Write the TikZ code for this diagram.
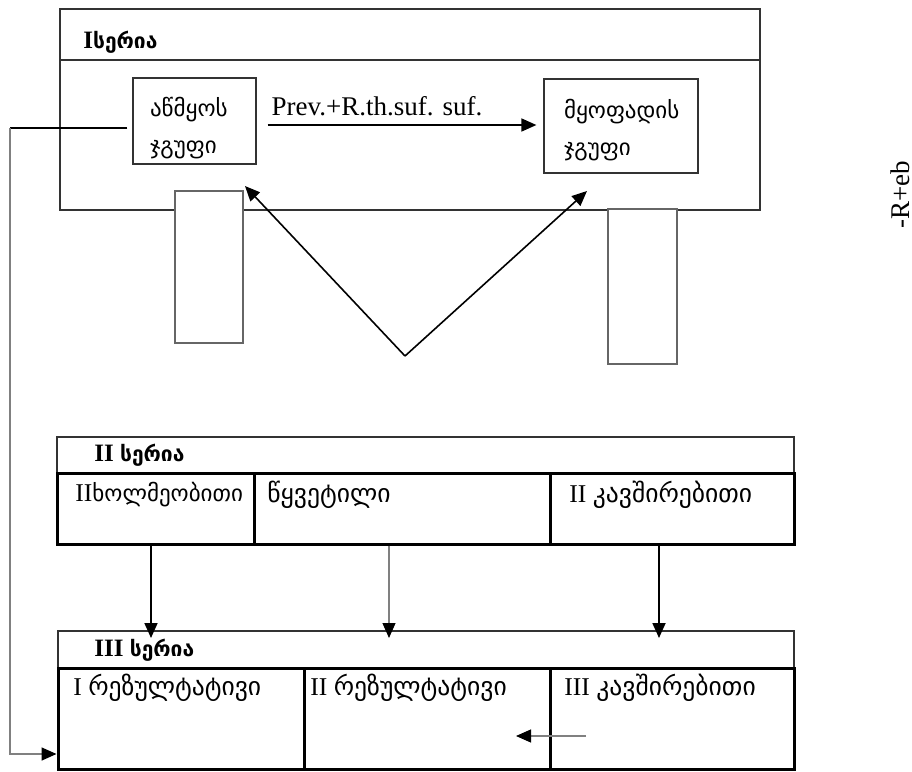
\documentclass[tikz,border=0pt]{standalone}
\usepackage{fontspec}
\setmainfont{Liberation Serif}
\newfontfamily\geo{DejaVu Sans}
\usetikzlibrary{arrows.meta}

\begin{document}
\begin{tikzpicture}[x=0.5pt,y=-0.5pt,thin,>={Triangle[length=7.5pt,width=6.5pt,black]},
				font=\fontsize{13.5}{16}\selectfont,
				frame/.style = {draw=black!80, line width=0.6pt},
				group box/.style = {draw=black!80, line width=0.6pt, align=left, inner ysep=0pt, font=\fontsize{11.5}{18.5}\selectfont\geo, minimum height=43pt},
				small box/.style = {draw=black!60, fill=white, line width=0.6pt, minimum width=34pt, minimum height=76pt, inner sep=0pt},
				cell/.style = {draw, line width=1.5pt, inner sep=0pt},
				cell text/.style = {anchor=west, inner sep=0pt, font=\fontsize{12.8}{15}\selectfont},
				series/.style = {anchor=west, inner sep=0pt, font=\fontsize{12.5}{14}\selectfont\bfseries}]
				\useasboundingbox (0,0) rectangle (912,772);
				
				% I series
				\draw[frame] (60,9) rectangle (760,210);
				\draw[frame] (60,60) -- (760,60);
				\node[series] (10) at (83,42) {I{\fontsize{10.5}{14}\selectfont\geo სერია}};
				\node[group box, text width=44.5pt, inner xsep=8.5pt, minimum width=61.5pt] (1) at (194.5,121) {\rule{0pt}{17pt}აწმყოს\\ჯგუფი};
				\node[group box, text width=57pt, inner xsep=10pt, minimum width=77pt, minimum height=47pt] (2) at (621,126) {\rule{0pt}{14pt}მყოფადის\\ჯგუფი};
				\node[small box] (3) at (209,267) {};
				\node[small box, minimum width=34.5pt, minimum height=77.5pt] (4) at (642.5,286.5) {};
				\coordinate (a) at (0,125);
				\coordinate (v) at (405,356);
				\coordinate (t1) at (245,186);
				\coordinate (t2) at (587,191);
				\draw[->, line width=0.8pt, shorten <=5.5pt, shorten >=3.5pt] (1.east |- a) -- node[pos=0.42, above=1pt] {Prev.+R.th.suf. suf.} (2.west |- a);
				\draw[->, line width=0.8pt] (v) -- (t1);
				\draw[->, line width=0.8pt] (v) -- (t2);
				\node[rotate=90] (5) at (900,195) {-R+eb};
				
				% II series
				\draw[frame] (57,473) |- (794,437) -- (794,473);
				\node[series] (20) at (94,455) {II {\fontsize{10.5}{14}\selectfont\geo სერია}};
				\node[cell, minimum width=98.5pt, minimum height=35.5pt] (21) at (155.5,508.5) {};
				\node[cell, minimum width=148pt, minimum height=35.5pt] (22) at (402,508.5) {};
				\node[cell, minimum width=122pt, minimum height=35.5pt] (23) at (672,508.5) {};
				\node[cell text] at (75,495) {II{\fontsize{11.5}{15}\selectfont\geo ხოლმეობითი}};
				\node[cell text] at (267,495) {\geo წყვეტილი};
				\node[cell text] at (569,495) {II {\geo კავშირებითი}};
				
				% III series
				\draw[frame] (58,668) |- (794,631) -- (794,668);
				\node[series] (30) at (94,650) {III {\fontsize{10.5}{14}\selectfont\geo სერია}};
				\node[cell, minimum width=123pt, minimum height=50.5pt] (31) at (181,718.5) {};
				\node[cell, minimum width=123pt, minimum height=50.5pt] (32) at (427,718.5) {};
				\node[cell, minimum width=122pt, minimum height=50.5pt] (33) at (672,718.5) {};
				\node[cell text] at (73,688) {I {\geo რეზულტატივი}};
				\node[cell text] at (310,688) {II {\geo რეზულტატივი}};
				\node[cell text] at (564,688) {III {\geo კავშირებითი}};
				
				% connectors
				\coordinate (e1) at (151,638);
				\coordinate (e2) at (389,638);
				\coordinate (e3) at (659,638);
				\draw[->, line width=0.9pt] (e1 |- 21.south) -- (e1);
				\draw[->, draw=black!50, line width=0.6pt] (e2 |- 22.south) -- (e2);
				\draw[->, line width=0.9pt] (e3 |- 23.south) -- (e3);
				\coordinate (c1) at (10,128);
				\coordinate (c2) at (10,754);
				\draw[line width=0.6pt, shorten <=2.5pt] (1.west |- c1) -- (c1);
				\draw[->, draw=black!50, line width=0.8pt] (c1) -- (c2) -- (c2 -| 31.west);
				\coordinate (s1) at (586,736);
				\coordinate (s2) at (516,736);
				\draw[->, draw=black!50, line width=0.6pt] (s1) -- (s2);
\end{tikzpicture}
\end{document}
